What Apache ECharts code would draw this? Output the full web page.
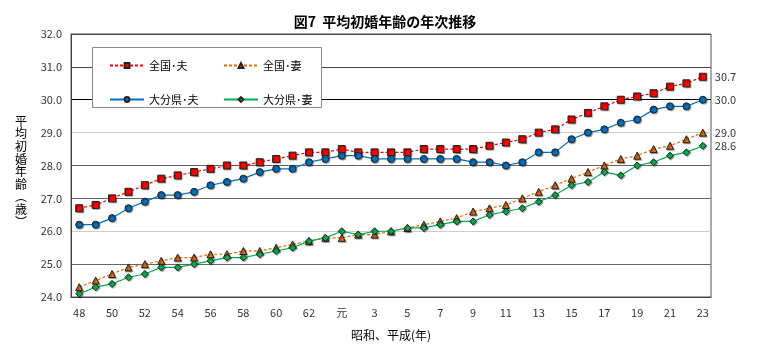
<!DOCTYPE html>
<html><head><meta charset="utf-8">
<script src="https://cdn.jsdelivr.net/npm/echarts@6/dist/echarts.min.js"></script>
<style>html,body{margin:0;padding:0;background:#fff}#c{width:758px;height:346px}</style>
</head><body><div id="c"></div>
<script>
const categories = ['48','49','50','51','52','53','54','55','56','57','58','59','60','61','62','63','元','2','3','4','5','6','7','8','9','10','11','12','13','14','15','16','17','18','19','20','21','22','23'];
const zenkokuOtto = [26.7,26.8,27.0,27.2,27.4,27.6,27.7,27.8,27.9,28.0,28.0,28.1,28.2,28.3,28.4,28.4,28.5,28.4,28.4,28.4,28.4,28.5,28.5,28.5,28.5,28.6,28.7,28.8,29.0,29.1,29.4,29.6,29.8,30.0,30.1,30.2,30.4,30.5,30.7];
const zenkokuTsuma = [24.3,24.5,24.7,24.9,25.0,25.1,25.2,25.2,25.3,25.3,25.4,25.4,25.5,25.6,25.7,25.8,25.8,25.9,25.9,26.0,26.1,26.2,26.3,26.4,26.6,26.7,26.8,27.0,27.2,27.4,27.6,27.8,28.0,28.2,28.3,28.5,28.6,28.8,29.0];
const oitaOtto = [26.2,26.2,26.4,26.7,26.9,27.1,27.1,27.2,27.4,27.5,27.6,27.8,27.9,27.9,28.1,28.2,28.3,28.3,28.2,28.2,28.2,28.2,28.2,28.2,28.1,28.1,28.0,28.1,28.4,28.4,28.8,29.0,29.1,29.3,29.4,29.7,29.8,29.8,30.0];
const oitaTsuma = [24.1,24.3,24.4,24.6,24.7,24.9,24.9,25.0,25.1,25.2,25.2,25.3,25.4,25.5,25.7,25.8,26.0,25.9,26.0,26.0,26.1,26.1,26.2,26.3,26.3,26.5,26.6,26.7,26.9,27.1,27.4,27.5,27.8,27.7,28.0,28.1,28.3,28.4,28.6];
const seriesNames = ['全国･夫','全国･妻','大分県･夫','大分県･妻'];
const yTicks = [24,25,26,27,28,29,30,31,32];

const FONT = '"Noto Sans CJK JP", sans-serif';
const chart = echarts.init(document.getElementById('c'), null, {renderer:'canvas'});
const n = categories.length;
function mk(name, data, color, lineType, symbol, size){
  return {
    name, type:'line', data, symbol, symbolSize:size, z: 3,
    lineStyle:{color, width:1.2, type:lineType},
    itemStyle:{color, borderColor:'#222', borderWidth:1, shadowColor:'rgba(0,0,0,0.35)', shadowOffsetX:1, shadowOffsetY:1, shadowBlur:1},
    label:{show:true, position:'right', distance:8, color:'#333', fontSize:11, fontFamily:FONT,
      formatter:(p)=> p.dataIndex===n-1 ? p.value.toFixed(1) : ''},
    emphasis:{disabled:true}, animation:false
  };
}
const option = {
  animation:false,
  textStyle:{fontFamily:FONT},
  title:{text:'図7  平均初婚年齢の年次推移', left:380, textAlign:'center', top:10,
    textStyle:{fontSize:14, fontWeight:'bold', color:'#000', fontFamily:FONT}},
  grid:{left:71, right:47, top:34, bottom:49, show:true, borderColor:'#555', borderWidth:1},
  xAxis:{type:'category', data:categories, boundaryGap:true,
    axisLine:{lineStyle:{color:'#444'}}, axisTick:{show:false},
    axisLabel:{interval:1, color:'#333', fontSize:11, margin:10},
    name:'昭和、平成(年)', nameLocation:'middle', nameGap:32,
    nameTextStyle:{fontSize:12, color:'#000'}},
  yAxis:{type:'value', min:yTicks[0], max:yTicks[yTicks.length-1], interval:1,
    axisLine:{show:true, lineStyle:{color:'#444'}}, axisTick:{show:false},
    axisLabel:{formatter:v=>v.toFixed(1), color:'#333', fontSize:11, margin:9},
    splitLine:{show:true, lineStyle:{width:1, color:['#444','#666','#ccc','#666','#666','#ccc','#000','#444','#444']}}},
  legend:[
    {data:[seriesNames[0], seriesNames[2]], orient:'vertical', left:104, top:55, itemWidth:34, itemHeight:6, itemGap:23,
      textStyle:{fontSize:11, color:'#000'}, selectedMode:false},
    {data:[seriesNames[1], seriesNames[3]], orient:'vertical', left:218, top:55, itemWidth:34, itemHeight:6, itemGap:23,
      textStyle:{fontSize:11, color:'#000'}, selectedMode:false}
  ],
  graphic:[
    {type:'rect', shape:{x:92.5, y:47.5, width:229, height:60}, style:{fill:'#fff', stroke:'#888', lineWidth:1}, z:1},
    {type:'text', left:15, top:115, style:{text:'平\n均\n初\n婚\n年\n齢\n︵\n歳\n︶', fontSize:12, lineHeight:12.6, fill:'#000', fontFamily:FONT}}
  ],
  series:[
    mk(seriesNames[0], zenkokuOtto, '#FF0000', [3,2], 'rect', 7),
    mk(seriesNames[1], zenkokuTsuma, '#E46C0A', [3,2], 'triangle', 7),
    mk(seriesNames[2], oitaOtto, '#0070C0', 'solid', 'circle', 7),
    mk(seriesNames[3], oitaTsuma, '#00B050', 'solid', 'diamond', 7)
  ]
};
chart.setOption(option);
</script></body></html>
